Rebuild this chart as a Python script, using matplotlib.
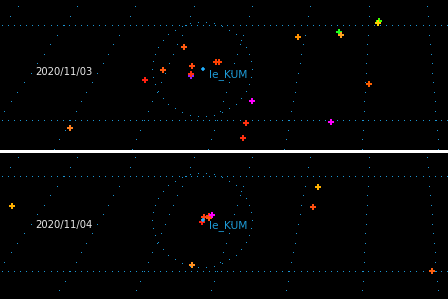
import numpy as np
import matplotlib
matplotlib.use('Agg')
import matplotlib.pyplot as plt
import matplotlib.patches as patches

# map grid (map units ~ pixels of the top panel)
pole = (391, -443)
meridian_x = [18, 77, 135, 194, 252, 310, 369, 427]   # x where meridians cross y=7
parallel_y = [26, 121]
station = (203, 69)
station_name = "le_KUM"
ring_center = (202, 70)
ring_rx, ring_ry = 50, 47

dates = ["2020/11/03", "2020/11/04"]

# strikes day 1
x1 = [184, 192, 163, 191, 191, 145, 216, 219, 70, 252, 246, 243, 379, 378, 339, 341, 298, 369, 331]
y1 = [47, 66, 70, 76, 74, 80, 62, 62, 128, 101, 123, 138, 21, 23, 32, 35, 37, 84, 122]
c1 = ['#ff5a10', '#ff4a10', '#ff5a10', '#9020ff', '#ff3010', '#ff2010', '#ff4000', '#ff4000',
      '#ff8020', '#ff00ff', '#ff3010', '#ff3010', '#40ff00', '#ffd000', '#20ff20', '#ffa020',
      '#ff9000', '#ff6000', '#ff00ff']

# strikes day 2
x2 = [12, 204, 209, 209, 212, 202, 192, 318, 313, 432]
y2 = [55, 66, 65, 67, 64, 71, 114, 36, 56, 120]
c2 = ['#ffb000', '#ff4010', '#ff4010', '#ff5010', '#ff00ff', '#ff2010', '#ff9020',
      '#ffb000', '#ff5010', '#ff6010']

grid_col = '#1a96d4'


def grid_dots():
    # dotted lines as single pixels
    gx, gy = [], []
    yy = np.arange(-12, 165, 9.5)
    for mx in meridian_x:
        gx += list(pole[0] + (mx - pole[0]) * (yy - pole[1]) / (7 - pole[1]))
        gy += list(yy)
    xx = np.arange(1.7, 450, 6.1)
    for py in parallel_y:
        gx += list(xx)
        gy += [py] * len(xx)
    a = np.linspace(0, 2 * np.pi, 38, endpoint=False)
    gx += list(ring_center[0] + ring_rx * np.cos(a))
    gy += list(ring_center[1] + ring_ry * np.sin(a))
    return gx, gy


def draw_panel(ax, date, xs, ys, cs, date_y):
    ax.set_facecolor('black')
    for s in ax.spines.values():
        s.set_visible(False)
    ax.set_xticks([])
    ax.set_yticks([])

    gx, gy = grid_dots()
    ax.plot(gx, gy, ',', color=grid_col)

    ax.scatter(xs, ys, c=cs, marker='+', s=14, linewidths=1.1, zorder=3, antialiased=False)
    ax.plot(*station, marker='+', color='#20b0ff', ms=3.5, mew=1.1, zorder=4, antialiased=False)
    ax.text(station[0] + 6, station[1] + 6, station_name, color='#1e9bd7', fontsize=7.7,
            ha='left', va='center')
    ax.text(64, date_y, date, color='#e8e8e8', fontsize=7.2, ha='center', va='center')


fig = plt.figure(figsize=(4.48, 2.99), dpi=100, facecolor='white')
ax_top = fig.add_axes([0, 149 / 299, 1, 150 / 299])
ax_bot = fig.add_axes([0, 0, 1, 146 / 299])

ax_top.set_xlim(0, 448)
ax_top.set_ylim(150, 0)
ax_bot.set_xlim(0, 448)
ax_bot.set_ylim(148, 2)

draw_panel(ax_top, dates[0], x1, y1, c1, 72)
draw_panel(ax_bot, dates[1], x2, y2, c2, 74)

fig.savefig('out.png', dpi=100, facecolor='white')
